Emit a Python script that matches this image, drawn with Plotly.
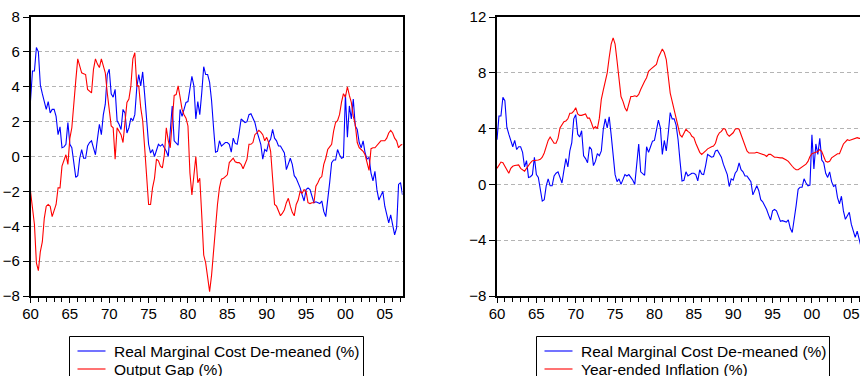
import plotly.graph_objects as go

# ---- data (quarterly, 1960Q1 onward) ----
start_year = 1960
rmc = [3.2, 4.9, 4.9, 6.25, 6.0, 4.1, 3.6, 3.2, 2.7, 3.15,
       2.5, 2.7, 2.7, 2.3, 1.25, 1.7, 0.5, 0.55, 0.7, 1.95,
       0.7, 0.5, -0.45, -1.2, -1.1, -0.1, 0.4, -0.1, -0.1, 0.6,
       0.8, 0.9, 0.5, 0.1, 1.0, 1.85, 1.25, 2.4, 3.0, 4.7,
       5.0, 3.6, 3.4, 3.85, 2.05, 1.85, 1.55, 2.7, 2.5, 1.35,
       1.65, 2.2, 2.05, 2.4, 3.95, 4.7, 4.05, 4.85, 3.55, 2.05,
       0.7, 0.2, 0.4, 0.0, 0.4, 0.7, 0.6, 0.7, 0.5, 0.3, 0.0,
       1.35, 2.9, 0.9, 0.8, 0.65, 2.7, 2.3, 2.7, 3.1, 3.15,
       3.95, 4.6, 4.05, 2.15, 3.15, 2.4, 3.65, 5.15, 4.7, 4.7,
       4.25, 3.2, 1.65, 0.25, 0.3, 0.9, 0.6, 0.7, 0.8, 0.8,
       0.7, 0.25, 1.05, 0.75, 0.7, 1.35, 2.15, 2.05, 1.95, 2.0,
       2.4, 2.45, 2.2, 1.95, 1.45, 1.1, 0.7, -0.15, 0.4, 0.3,
       0.8, 1.0, 1.55, 1.05, 0.9, 0.6, 0.6, 0.4, 0.2, -0.75,
       -0.35, -0.1, -0.45, -1.1, -1.25, -1.5, -1.8, -2.2, -2.55, -1.9,
       -1.8, -1.9, -2.3, -2.65, -2.6, -2.65, -2.7, -2.55, -3.15, -3.45, -2.55,
       -1.5, -0.35, -0.2, -0.2, 0.4, 0.1, -0.1, -0.05, 3.55, 1.1,
       2.9, 2.15, 3.3, 1.75, 1.55, 0.8, 0.5, 0.9, 0.2, -0.15,
       -0.05, -0.95, -1.4, -0.85, -1.9, -2.5, -2.2, -2.0, -2.85, -3.35,
       -3.8, -3.35, -4.0, -4.5, -4.1, -1.6, -1.5, -2.2]

output_gap = [-2.0, -3.15, -3.9, -6.1, -6.55, -5.45, -4.9, -3.55, -2.85, -2.75,
              -2.85, -3.45, -3.05, -2.75, -1.8, -1.8, -0.55, -0.25, 0.1, -0.45,
              1.05, 1.65, 2.8, 4.35, 5.6, 5.2, 4.8, 4.75, 4.7, 3.85,
              3.75, 3.65, 5.0, 5.6, 5.3, 5.1, 5.6, 5.2, 4.8, 3.65,
              2.6, 1.75, 1.65, -0.15, 1.65, 1.45, 1.25, 0.8, 2.15, 3.1,
              3.3, 4.05, 5.6, 5.95, 4.05, 4.05, 2.8, 2.05, 0.5, -1.15,
              -2.75, -2.75, -1.8, -1.25, -0.15, -0.25, -0.55, -0.65, 0.1, 1.65,
              0.9, 0.5, 1.85, 3.5, 3.55, 4.05, 3.4, 2.7, 2.4, 2.2,
              1.75, -0.95, -2.2, -0.95, 0.0, -1.5, -1.25, -3.35, -5.65, -6.1,
              -7.1, -7.75, -6.8, -5.25, -4.1, -2.75, -1.8, -1.3, -1.25, -1.15,
              -1.05, -0.35, -0.25, -0.1, -0.3, -0.35, -0.35, -0.45, -0.7, -0.4, -0.15,
              0.7, 0.7, 0.8, 1.25, 1.35, 1.5, 1.4, 1.25, 0.9, 1.1,
              0.8, 0.3, -1.25, -2.75, -2.85, -3.15, -3.4, -3.25, -3.05, -2.65,
              -2.4, -2.85, -3.2, -3.4, -2.75, -2.5, -2.0, -2.1, -1.9, -2.0,
              -2.65, -2.7, -2.65, -2.65, -1.7, -1.5, -1.25, -1.15, -0.45, -0.1,
              0.4, 0.55, 0.7, 1.45, 1.95, 2.05, 2.4, 3.1, 3.6, 3.4,
              4.0, 3.5, 3.1, 2.3, 1.85, 0.8, 0.5, 0.4, 0.3, 0.1,
              -0.35, -0.8, 0.45, 0.5, 0.5, 0.65, 0.8, 0.9, 0.9, 0.9,
              1.05, 1.35, 1.5, 1.35, 1.05, 0.9, 0.5, 0.65, 0.7]

inflation = [1.15, 1.4, 1.6, 1.55, 1.3, 1.05, 0.8, 1.15, 1.3, 1.35,
             1.35, 1.4, 1.15, 1.05, 0.95, 1.15, 1.4, 1.55, 1.7, 1.7,
             1.7, 1.75, 1.8, 1.95, 2.25, 2.75, 3.15, 3.4, 3.15, 2.95,
             2.95, 3.3, 4.05, 4.3, 4.5, 4.55, 4.7, 5.1, 5.1, 5.25,
             5.5, 5.05, 4.95, 4.95, 5.0, 5.05, 4.75, 4.75, 4.4, 4.0,
             4.15, 4.0, 4.75, 6.1, 6.75, 7.4, 8.0, 9.1, 10.05, 10.5,
             10.05, 8.85, 7.5, 6.3, 5.95, 5.5, 5.25, 5.85, 6.3, 6.3,
             6.35, 6.3, 6.45, 6.8, 7.15, 7.4, 7.65, 8.1, 8.25, 8.35, 8.5,
             8.6, 9.1, 9.45, 9.7, 9.45, 8.95, 7.75, 6.55, 5.95, 5.35,
             4.75, 4.05, 3.55, 3.4, 3.7, 3.95, 3.8, 3.7, 3.45, 3.35,
             2.95, 2.6, 2.3, 2.15, 2.25, 2.4, 2.55, 2.65, 2.7, 2.75,
             2.95, 3.45, 3.7, 3.8, 4.0, 3.95, 3.6, 3.45, 3.55, 3.7,
             3.95, 4.0, 3.95, 3.55, 3.15, 2.85, 2.4, 2.25, 2.25, 2.2,
             2.25, 2.3, 2.25, 2.25, 2.2, 2.1, 2.0, 2.15, 2.15, 2.05, 1.95,
             1.95, 1.9, 1.9, 1.9, 1.85, 1.75, 1.65, 1.45, 1.3, 1.15,
             1.05, 1.05, 1.15, 1.3, 1.4, 1.45, 1.65, 2.0, 2.2, 2.25,
             2.3, 2.35, 2.5, 2.35, 2.0, 1.65, 1.6, 1.65, 1.9, 2.0,
             2.15, 2.2, 2.2, 2.5, 2.9, 3.05, 3.2, 3.15, 3.2, 3.25,
             3.3, 3.35, 3.3, 3.3, 3.35, 3.3, 3.3, 3.3]

tick_years = [1960, 1965, 1970, 1975, 1980, 1985, 1990, 1995, 2000, 2005]
tick_labels = ["60", "65", "70", "75", "80", "85", "90", "95", "00", "05"]
left_yticks = [-8, -6, -4, -2, 0, 2, 4, 6, 8]
right_yticks = [-8, -4, 0, 4, 8, 12]

name_rmc = "Real Marginal Cost De-meaned (%)"
name_gap = "Output Gap (%)"
name_inf = "Year-ended Inflation (%)"


def qx(vals):
    return [start_year + 0.25 * i for i in range(len(vals))]


W, H = 860, 376
BLUE = "#0000ff"
RED = "#ff0000"
FONT = "Liberation Sans, Arial, sans-serif"

fig = go.Figure()
fig.add_trace(go.Scatter(x=qx(rmc), y=rmc, mode="lines", name=name_rmc,
                         line=dict(color=BLUE, width=1.1), xaxis="x", yaxis="y"))
fig.add_trace(go.Scatter(x=qx(output_gap), y=output_gap, mode="lines", name=name_gap,
                         line=dict(color=RED, width=1.1), xaxis="x", yaxis="y"))
fig.add_trace(go.Scatter(x=qx(rmc), y=rmc, mode="lines", name=name_rmc,
                         line=dict(color=BLUE, width=1.1), xaxis="x2", yaxis="y2"))
fig.add_trace(go.Scatter(x=qx(inflation), y=inflation, mode="lines", name=name_inf,
                         line=dict(color=RED, width=1.1), xaxis="x2", yaxis="y2"))

# pixel geometry
L_x0, L_x1 = 30.5, 402.5
R_x0, R_x1 = 497.0, 860.0
y_top, y_bot = 17.0, 296.0
x_end = start_year + 0.25 * (len(rmc) - 1)
px_per_year = (L_x1 - L_x0) / (x_end - start_year)
r_end = start_year + (R_x1 - R_x0) / px_per_year

ydom = [1 - y_bot / H, 1 - y_top / H]

common_x = dict(
    tickmode="array", tickvals=tick_years, ticktext=tick_labels,
    showgrid=False, zeroline=False, showline=True, linecolor="black", linewidth=1.5,
    ticks="outside", ticklen=5, tickcolor="black", tickwidth=1,
    ticklabelstandoff=-2,
    minor=dict(dtick=1, tick0=1960, ticks="outside", ticklen=4, tickcolor="black",
               tickwidth=1, showgrid=False),
    tickfont=dict(family=FONT, size=15, color="black"),
    fixedrange=True,
)
common_y = dict(
    tickmode="array", showgrid=True, gridcolor="#b4b4b4", gridwidth=1,
    griddash="4px,3px", zeroline=False, showline=True, linecolor="black",
    linewidth=1.5, ticks="outside", ticklen=6, tickcolor="black", tickwidth=1,
    tickfont=dict(family=FONT, size=15, color="black"), fixedrange=True,
)

# ---- hand-drawn legend boxes (compact rows like the original) ----
shapes = []
annotations = []


def px_x(v):
    return v / W


def px_y(v):
    return 1 - v / H


def add_legend(box_x0, box_x1, entries):
    shapes.append(dict(type="rect", xref="paper", yref="paper",
                       x0=px_x(box_x0), x1=px_x(box_x1),
                       y0=px_y(400), y1=px_y(336.5),
                       line=dict(color="black", width=1), fillcolor="white",
                       layer="above"))
    for i, (label, color) in enumerate(entries):
        yc = 351 + 18 * i
        shapes.append(dict(type="line", xref="paper", yref="paper",
                           x0=px_x(box_x0 + 8), x1=px_x(box_x0 + 36),
                           y0=px_y(yc), y1=px_y(yc),
                           line=dict(color=color, width=1.1), layer="above"))
        annotations.append(dict(text=label, xref="paper", yref="paper",
                                x=px_x(box_x0 + 42), y=px_y(yc),
                                xanchor="left", yanchor="middle", showarrow=False,
                                font=dict(family=FONT, size=15.5, color="black")))


add_legend(69.5, 363.5, [(name_rmc, BLUE), (name_gap, RED)])
add_legend(536.5, 829.5, [(name_rmc, BLUE), (name_inf, RED)])

fig.update_layout(
    width=W, height=H,
    margin=dict(l=0, r=0, t=0, b=0, autoexpand=False),
    paper_bgcolor="white", plot_bgcolor="white",
    font=dict(family=FONT, color="black"),
    showlegend=False,
    xaxis=dict(domain=[L_x0 / W, L_x1 / W], range=[start_year, x_end],
               anchor="y", mirror=True, **common_x),
    yaxis=dict(domain=ydom, range=[-8, 8], tickvals=left_yticks,
               anchor="x", mirror=True, **common_y),
    xaxis2=dict(domain=[R_x0 / W, 1.0], range=[start_year, r_end],
                anchor="y2", mirror=True, **common_x),
    yaxis2=dict(domain=ydom, range=[-8, 12], tickvals=right_yticks,
                anchor="x2", mirror=False, **common_y),
    shapes=shapes,
    annotations=annotations,
)

fig.write_html("out.html")
